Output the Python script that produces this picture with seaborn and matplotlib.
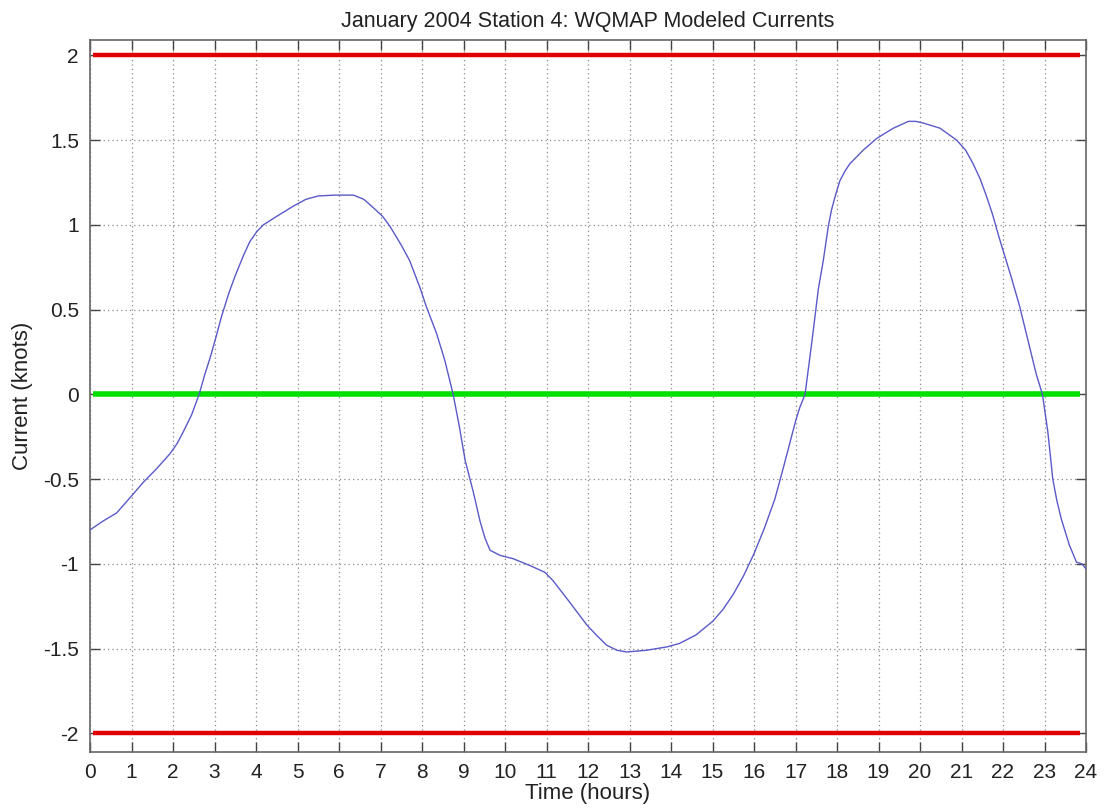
import numpy as np
import pandas as pd
import matplotlib
matplotlib.use("Agg")
import matplotlib.pyplot as plt
import seaborn as sns

# ---- data ----
time_hours = [0.0, 0.3, 0.64, 1.0, 1.28, 1.6, 1.93, 2.1, 2.25, 2.45, 2.63, 2.77, 2.9,
              3.05, 3.17, 3.35, 3.5, 3.7, 3.85, 4.02, 4.18, 4.5, 4.9, 5.2, 5.5, 5.9,
              6.35, 6.6, 6.83, 7.05, 7.23, 7.5, 7.7, 7.95, 8.1, 8.35, 8.55, 8.75, 8.9,
              9.04, 9.24, 9.4, 9.52, 9.64, 9.88, 10.2, 10.6, 10.96, 11.16, 11.57,
              11.97, 12.2, 12.45, 12.7, 12.93, 13.41, 13.9, 14.2, 14.6, 15.0, 15.25,
              15.5, 15.75, 16.0, 16.25, 16.5, 16.7, 16.85, 17.0, 17.1, 17.23, 17.4,
              17.55, 17.67, 17.79, 17.87, 17.97, 18.07, 18.2, 18.31, 18.63, 18.96,
              19.36, 19.72, 19.9, 20.08, 20.48, 20.88, 21.1, 21.28, 21.45, 21.6,
              21.75, 21.9, 22.05, 22.2, 22.4, 22.6, 22.8, 22.95, 23.08, 23.2, 23.3,
              23.41, 23.6, 23.77, 23.9, 24.0]
current_knots = [-0.80, -0.75, -0.70, -0.60, -0.52, -0.44, -0.35, -0.29, -0.22, -0.12,
                 0.0, 0.12, 0.22, 0.35, 0.46, 0.60, 0.70, 0.82, 0.90, 0.96, 1.00, 1.05,
                 1.11, 1.15, 1.17, 1.175, 1.175, 1.15, 1.10, 1.05, 0.99, 0.88, 0.79,
                 0.63, 0.52, 0.36, 0.20, 0.0, -0.19, -0.39, -0.58, -0.75, -0.85, -0.92,
                 -0.95, -0.97, -1.01, -1.05, -1.10, -1.23, -1.36, -1.42, -1.48, -1.51,
                 -1.52, -1.51, -1.49, -1.47, -1.42, -1.34, -1.27, -1.18, -1.07, -0.94,
                 -0.79, -0.62, -0.44, -0.30, -0.16, -0.08, 0.0, 0.32, 0.62, 0.79, 0.99,
                 1.09, 1.18, 1.26, 1.32, 1.36, 1.44, 1.51, 1.57, 1.61, 1.61, 1.60, 1.57,
                 1.50, 1.44, 1.36, 1.27, 1.17, 1.06, 0.93, 0.81, 0.69, 0.52, 0.32, 0.12,
                 0.0, -0.22, -0.50, -0.63, -0.74, -0.89, -0.99, -1.00, -1.03]

limit_levels = [2.0, -2.0]
zero_level = 0.0
ref_line_span = [0.08, 23.85]

x_ticks = list(range(0, 25))
y_ticks = [-2, -1.5, -1, -0.5, 0, 0.5, 1, 1.5, 2]
y_tick_labels = ["-2", "-1.5", "-1", "-0.5", "0", "0.5", "1", "1.5", "2"]

title_text = "January 2004 Station 4: WQMAP Modeled Currents"
x_label = "Time (hours)"
y_label = "Current (knots)"

# ---- styling ----
sns.set_theme(style="white")
plt.rcParams["font.family"] = ["Liberation Sans", "DejaVu Sans"]

fig = plt.figure(figsize=(11.1, 8.11), dpi=100)
ax = fig.add_axes([90 / 1110, 1 - 752 / 811, (1086 - 90) / 1110, (752 - 40) / 811])

df = pd.DataFrame({"time": time_hours, "current": current_knots})

# threshold lines
for lv in limit_levels:
    ax.plot(ref_line_span, [lv, lv], color="#e00000", lw=3.2, solid_capstyle="butt", zorder=3)
ax.plot(ref_line_span, [zero_level, zero_level], color="#00e000", lw=4.0,
        solid_capstyle="butt", zorder=3)

sns.lineplot(data=df, x="time", y="current", ax=ax, color="#5a5ac8", lw=1.0,
             zorder=4, estimator=None, sort=False)

ax.set_xlim(0, 24)
ax.set_ylim(-2.11, 2.09)
ax.set_xticks(x_ticks)
ax.set_xticklabels([str(t) for t in x_ticks])
ax.set_yticks(y_ticks)
ax.set_yticklabels(y_tick_labels)

ax.grid(True, which="major", linestyle=(0, (1, 2.5)), color="#8a8a8a", lw=0.9)
ax.set_axisbelow(True)

ax.tick_params(direction="in", length=7, width=1.0, color="#444444",
               top=True, right=True, bottom=True, left=True,
               labelsize=15, labelcolor="#222222", pad=8)
for sp in ax.spines.values():
    sp.set_color("#666666")
    sp.set_linewidth(1.2)

ax.set_title(title_text, fontsize=15.5, color="#222222", pad=9)
ax.set_xlabel(x_label, fontsize=16, color="#222222", labelpad=1)
ax.set_ylabel(y_label, fontsize=16, color="#222222", labelpad=7)

fig.savefig("out.png", dpi=100)
